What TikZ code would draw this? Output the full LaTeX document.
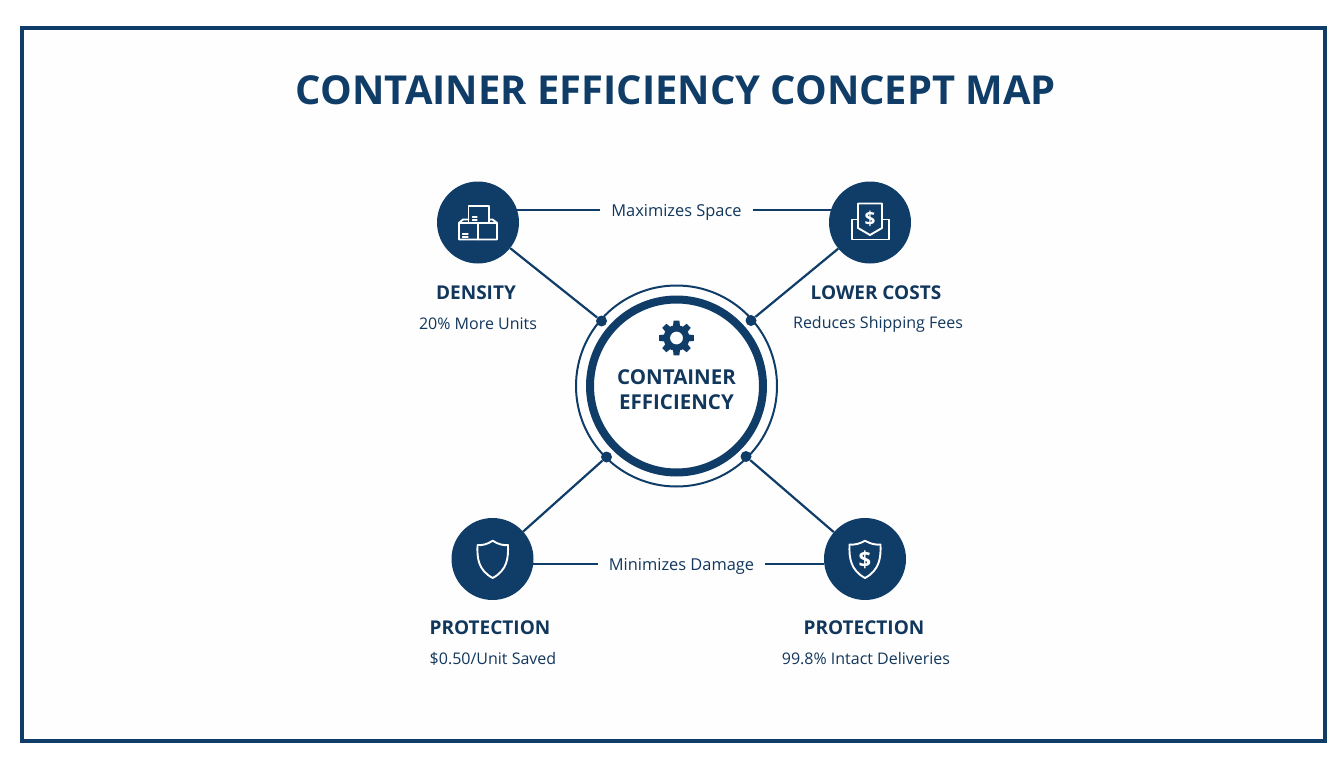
\documentclass[tikz,border=0pt]{standalone}
\usepackage{fontspec}
\setmainfont{Open Sans}
\definecolor{navy}{HTML}{0F3D68}
\definecolor{inkc}{HTML}{12375C}
\definecolor{paper}{HTML}{FEFEFE}
\tikzset{
  x=1pt,y=-1pt,
  hub/.style={circle,fill=navy,draw=none,minimum size=82pt,inner sep=0pt},
  joint/.style={circle,fill=navy,draw=none,minimum size=11pt,inner sep=0pt},
  link/.style={draw=navy,line width=2.2pt},
  linklabel/.style={text=inkc,font=\fontsize{16.4}{18}\selectfont,inner ysep=0pt,inner xsep=0pt,outer xsep=11pt,text height=14pt,text depth=0.5pt},
  heading/.style={text=inkc,font=\fontsize{19}{22}\selectfont\bfseries,inner sep=0pt},
  sub/.style={text=inkc,font=\fontsize{16}{18}\selectfont,inner sep=0pt},
  glyph/.style={draw=white,line width=1.9pt,line join=round,line cap=round,fill=none},
}
\begin{document}
\begin{tikzpicture}
\useasboundingbox (0,0) rectangle (1344,768);
\fill[white] (0,0) rectangle (1344,768);
\fill[paper] (22,29) rectangle (1325,740);
\draw[navy,line width=4pt] (22,28.5) rectangle (1325,740.5);
\node[text=navy,font=\fontsize{39.9}{44}\selectfont\bfseries,inner sep=0pt] (title) at (676,90) {CONTAINER EFFICIENCY CONCEPT MAP};

% central
\node[circle,draw=navy,line width=2pt,fill=white,minimum size=201pt,inner sep=0pt] (outer) at (676.5,386) {};
\node[circle,draw=navy,line width=8pt,fill=white,minimum size=173pt,inner sep=0pt] (inner) at (676.5,386) {};
\node[text=inkc,font=\fontsize{20.5}{25}\selectfont\bfseries,align=center,inner sep=0pt] (centre) at (676.5,390) {CONTAINER\\EFFICIENCY};

% gear
\begin{scope}[shift={(676.5,338)}]
\fill[navy,even odd rule] (0,0) circle (6.5) (0,0) circle (13);
\foreach \a in {0,45,...,315}{
  \fill[navy,rotate=\a] (-3.6,-11) -- (-2.9,-17.3) -- (2.9,-17.3) -- (3.6,-11) -- cycle;
}
\end{scope}

% joints
\node[joint] (ja) at (601.5,321) {};
\node[joint] (jb) at (751,320.5) {};
\node[joint] (jc) at (606.5,457) {};
\node[joint] (jd) at (746,456.5) {};

% hubs
\node[hub] (density) at (478,222.5) {};
\node[hub] (costs) at (870,222.5) {};
\node[hub] (protl) at (492.5,559) {};
\node[hub] (protr) at (865,559) {};

% link labels
\node[linklabel] (space) at (676.5,210) {Maximizes Space};
\node[linklabel] (damage) at (681.5,564) {Minimizes Damage};

% connectors
\draw[link] (density) -- (ja);
\draw[link] (costs) -- (jb);
\draw[link] (protl) -- (jc);
\draw[link] (protr) -- (jd);
\draw[link] (space.west -| density.17) -- (space.west);
\draw[link] (space.east) -- (space.east -| costs.163);
\draw[link] (damage.west -| protl.-7) -- (damage.west);
\draw[link] (damage.east) -- (damage.east -| protr.187);

% texts
\node[heading] (h1) at (476,293) {DENSITY};
\node[sub] (s1) at (478,324) {20\% More Units};
\node[heading] (h2) at (876,293) {LOWER COSTS};
\node[sub] (s2) at (878,324) {Reduces Shipping Fees};
\node[heading] (h3) at (490,628) {PROTECTION};
\node[sub] (s3) at (493,658.5) {\$0.50/Unit Saved};
\node[heading] (h4) at (864,628) {PROTECTION};
\node[sub] (s4) at (866,658.5) {99.8\% Intact Deliveries};

% box icon
\draw[glyph] (468.5,206) rectangle (489,223);
\draw[glyph] (468.5,219.5) -- (463,219.5) -- (459,223) -- (459,239.5) -- (497,239.5) -- (497,223) -- (492.5,219.5) -- (489,219.5);
\draw[glyph] (478,223) -- (478,239.5);
\draw[glyph] (459,223) -- (497,223);
\draw[glyph,line width=1.2pt] (472.5,217) -- (477,217) (472.5,220) -- (477,220);
\draw[glyph,line width=1.2pt] (462.5,234) -- (468,234) (462.5,237) -- (468,237);

% wallet icon
\draw[glyph] (858,219.5) -- (852,219.5) -- (852,239.5) -- (889,239.5) -- (889,219.5) -- (882,219.5);
\draw[glyph] (858,203.5) -- (882,203.5) -- (882,228) -- (870,235) -- (858,228) -- cycle;
\node[text=white,font=\fontsize{19}{20}\selectfont\bfseries,inner sep=0pt] (cost sign) at (870,219) {\$};

% plain shield
\draw[glyph] (492.7,540.7) .. controls (487,544.5) and (482,545.5) .. (477.5,545)
  .. controls (477,558) and (478,570) .. (492.7,578)
  .. controls (507.4,570) and (508.4,558) .. (508,545)
  .. controls (503.4,545.5) and (498.4,544.5) .. (492.7,540.7) -- cycle;

% dollar shield
\draw[glyph] (865,540.7) .. controls (859.3,544) and (854.3,545) .. (849.5,544.5)
  .. controls (849,558) and (850.5,570) .. (865,578)
  .. controls (879.5,570) and (881,558) .. (880.5,544.5)
  .. controls (875.7,545) and (870.7,544) .. (865,540.7) -- cycle;
\node[text=white,font=\fontsize{22}{24}\selectfont\bfseries,inner sep=0pt] (shield sign) at (865,559.5) {\$};
\end{tikzpicture}
\end{document}
